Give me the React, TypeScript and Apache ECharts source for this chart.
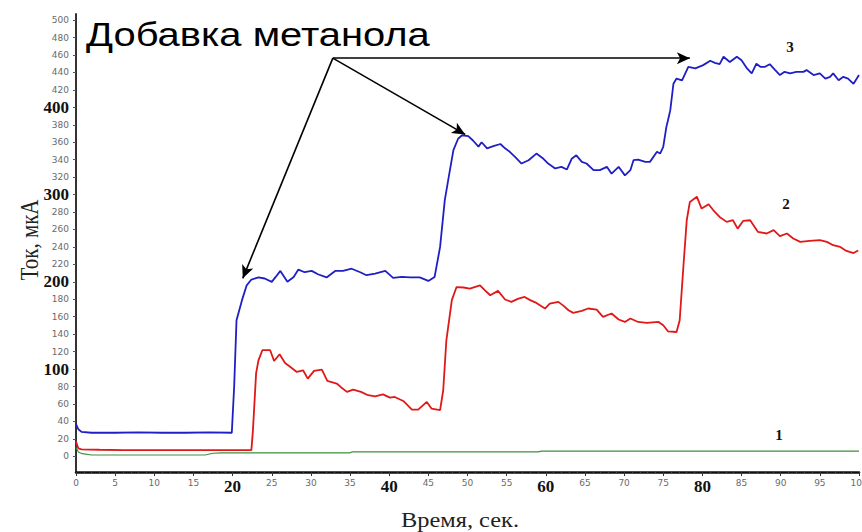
import React, { useEffect, useRef } from "react";
import * as echarts from "echarts";

// Time (s) / current (µA) readings for each curve
const series3Blue: [number, number][] = [
  [0, 37], [0.3, 31], [0.7, 28], [2, 27], [5, 27], [8, 27.5], [11, 27], [14, 27], [17, 27.5], [19.9, 27],
  [20.2, 80], [20.5, 156], [21.2, 179], [21.8, 196], [22.4, 202.6], [23.3, 205], [24.1, 203.8], [25.0, 200],
  [25.5, 205.6], [26.1, 212.5], [27.0, 200], [27.8, 205.6], [28.4, 214], [29.2, 211], [30.1, 212.5],
  [30.9, 208.7], [32.0, 205], [33.1, 212.5], [34.1, 212.5], [35.2, 215], [36.3, 211], [37.1, 207.6],
  [38.2, 209.5], [39.5, 212.5], [40.5, 204.5], [41.6, 205.6], [42.7, 205], [43.9, 205], [45.0, 201],
  [45.8, 205.6], [46.5, 240], [47.1, 293.6], [47.6, 320], [48.2, 351], [48.8, 364], [49.3, 368], [50.1, 367],
  [50.7, 362], [51.4, 355], [51.8, 360], [52.5, 353], [53.3, 355.5], [54.2, 358], [54.8, 353], [55.4, 349],
  [56.1, 343], [56.9, 335.6], [57.8, 339.4], [58.8, 347], [59.7, 341], [60.3, 335.6], [61.2, 330], [62.0, 331.8],
  [62.7, 328.8], [63.3, 341], [63.9, 345], [64.6, 337.5], [65.2, 335.6], [66.1, 328], [66.9, 328], [67.8, 331.8],
  [68.4, 324], [69.3, 331.8], [70.1, 322], [70.8, 328], [71.2, 339.4], [71.8, 340], [72.7, 337.5], [73.3, 337.5],
  [74.2, 349], [74.6, 347], [75.0, 354.7], [75.4, 377.6], [75.6, 385], [75.9, 396.8], [76.3, 427], [76.7, 433],
  [77.4, 431], [78.2, 446.5], [79.1, 444.6], [80.1, 448.4], [81.0, 453.4], [81.6, 451], [82.2, 449.5], [82.7, 458],
  [83.5, 452], [84.4, 458], [85.0, 454], [85.7, 444.6], [86.3, 438.9], [86.9, 450], [87.4, 446.5], [88.0, 446.5],
  [88.6, 449.5], [89.3, 442.7], [89.9, 437], [90.5, 440.7], [91.2, 438.9], [92.0, 440.7], [92.9, 440.7],
  [93.3, 442.7], [94.2, 437], [95.0, 438.9], [95.7, 433], [96.3, 435], [96.7, 439], [97.4, 431], [98.0, 435],
  [98.6, 433], [99.3, 427], [100, 437],
];

const series2Red: [number, number][] = [
  [0, 17], [0.3, 9], [0.7, 8], [3, 7.5], [6, 7], [10, 7], [14, 7], [18, 7], [22.4, 7], [22.6, 30], [23.0, 95],
  [23.3, 110], [23.8, 121.6], [24.8, 121.6], [25.3, 109.3], [26.0, 117], [26.7, 107], [27.3, 103], [28.2, 96.7],
  [29.0, 98.6], [29.6, 89], [30.4, 97.9], [31.4, 99.4], [32.1, 86.4], [33.3, 83.4], [33.8, 79.5], [34.6, 73.8],
  [35.4, 76.5], [36.4, 73.8], [37.3, 70], [38.2, 68.8], [39.2, 71], [40.1, 67.3], [40.7, 68], [41.8, 63.4],
  [42.9, 53.5], [43.7, 53.5], [44.8, 62.3], [45.4, 54.7], [46.5, 52.8], [46.9, 75.7], [47.3, 133], [48.0, 179],
  [48.6, 194], [49.5, 193.5], [50.3, 192.3], [51.6, 196], [52.2, 190.4], [52.9, 184.6], [53.9, 189.6],
  [54.8, 179.7], [55.6, 177], [56.5, 180.8], [57.3, 182.7], [58.0, 179], [58.8, 175.8], [59.9, 169.4], [60.5, 175],
  [61.6, 177], [62.2, 173], [62.9, 167.4], [63.5, 164.4], [64.6, 166.7], [65.4, 169.4], [66.5, 168.2],
  [67.3, 159.8], [68.4, 163.7], [69.3, 156.8], [70.1, 154], [70.8, 157.9], [71.8, 154], [72.9, 152.9], [74.4, 154],
  [75.0, 150.2], [75.6, 143.3], [76.7, 142.5], [77.1, 156], [77.6, 221], [78.0, 270.6], [78.4, 291.6],
  [79.3, 297.4], [79.9, 284], [80.8, 289], [81.4, 282], [82.2, 274.4], [83.1, 268.7], [83.9, 270.6], [84.5, 261],
  [85.2, 269.8], [86.1, 270.6], [87.1, 257.2], [88.2, 255.4], [89.1, 259.2], [89.9, 252.3], [90.8, 255.4],
  [91.6, 249.7], [92.5, 245.8], [93.7, 246.9], [95.0, 247.7], [95.9, 245.8], [96.7, 242], [97.6, 240],
  [98.4, 235.4], [99.3, 233], [99.9, 236],
];

const series1Green: [number, number][] = [
  [0, 10], [0.3, 5], [0.8, 3], [2, 1.5], [8, 1.5], [16.5, 1.5], [17.5, 3.5], [18.5, 4], [35, 4], [35.3, 5],
  [59, 5], [59.5, 6], [100, 6],
];

// Arrow annotations ("Добавка метанола"): start and end points in data coordinates
const arrowStart: [number, number] = [32.8, 456.4];
const arrowEnds: [number, number][] = [[21.3, 204], [49.7, 369], [78.4, 456.4]];

const yTickValues = [0, 20, 40, 60, 80, 100, 120, 140, 160, 180, 200, 220, 240, 260, 280, 300, 320, 340, 360, 380, 400, 420, 440, 460, 480, 500];
const yBoldLabels = [100, 200, 300, 400];
const xBoldLabels = [20, 40, 60, 80];

const titleText = "Добавка метанола";
const yName = "Ток, мкА";
const xName = "Время, сек.";
const curveLabels = ["3", "2", "1"];

export default function App() {
  const ref = useRef<HTMLDivElement>(null);

  useEffect(() => {
    if (!ref.current) return;
    const chart = echarts.init(ref.current, null, { renderer: "svg" });

    const rich = {
      s: { fontFamily: "DejaVu Sans", fontSize: 9, color: "#6a6a6a" },
      b: { fontFamily: "Liberation Serif", fontSize: 17, fontWeight: "bold", color: "#111" },
    };

    const option: any = {
      animation: false,
      backgroundColor: "#ffffff",
      grid: { left: 76, right: 3, top: 14, bottom: 60, containLabel: false, outerBoundsMode: "none" },
      xAxis: {
        type: "value",
        min: 0,
        max: 100,
        interval: 5,
        axisLine: { show: true, onZero: false, lineStyle: { color: "#111", width: 2.5 } },
        axisTick: { show: true, length: 4, lineStyle: { color: "#333", width: 1 } },
        minorTick: { show: true, splitNumber: 5, length: 2, lineStyle: { color: "#444", width: 1 } },
        splitLine: { show: false },
        axisLabel: {
          margin: 6,
          rich,
          hideOverlap: false,
          formatter: (v: number) => (xBoldLabels.includes(v) ? `{b|${v}}` : `{s|${v}}`),
        },
      },
      yAxis: {
        type: "value",
        min: -18,
        max: 507,
        axisLine: { show: true, onZero: false, lineStyle: { color: "#333", width: 2 } },
        axisTick: { show: true, length: 3, customValues: yTickValues, lineStyle: { color: "#555" } },
        splitLine: { show: false },
        axisLabel: {
          margin: 7,
          rich,
          customValues: yTickValues,
          formatter: (v: number) => (yBoldLabels.includes(v) ? `{b|${v}}` : `{s|${v}}`),
        },
      },
      series: [
        {
          type: "line",
          data: series1Green,
          showSymbol: false,
          lineStyle: { color: "#3d8f3d", width: 1.2 },
          z: 2,
        },
        {
          type: "line",
          data: series2Red,
          showSymbol: false,
          lineStyle: { color: "#e01818", width: 1.8 },
          z: 3,
        },
        {
          type: "line",
          data: series3Blue,
          showSymbol: false,
          lineStyle: { color: "#1f1fc4", width: 1.8 },
          z: 4,
          markLine: {
            silent: true,
            animation: false,
            symbol: ["none", "arrow"],
            symbolSize: [9, 13],
            label: { show: false },
            emphasis: { disabled: true },
            lineStyle: { color: "#000", width: 1.6, type: "solid" },
            data: arrowEnds.map((e) => [{ coord: arrowStart }, { coord: e }]),
          },
        },
      ],
      graphic: [
        {
          type: "text",
          x: 86,
          y: 35,
          scaleX: 1.21,
          style: {
            text: titleText,
            font: "33px 'Liberation Sans', Arial, sans-serif",
            fill: "#000",
            align: "left",
            verticalAlign: "middle",
          },
        },
        {
          type: "text",
          x: 30,
          y: 240,
          rotation: Math.PI / 2,
          scaleY: 1.15,
          style: {
            text: yName,
            font: "21px 'Liberation Serif', serif",
            fill: "#222",
            align: "center",
            verticalAlign: "middle",
          },
        },
        {
          type: "text",
          x: 460,
          y: 520,
          scaleX: 1.22,
          style: {
            text: xName,
            font: "20px 'Liberation Serif', serif",
            fill: "#222",
            align: "center",
            verticalAlign: "middle",
          },
        },
        {
          type: "text",
          x: 790,
          y: 47,
          style: { text: curveLabels[0], font: "bold 15px 'Liberation Serif', serif", fill: "#111", align: "center", verticalAlign: "middle" },
        },
        {
          type: "text",
          x: 786,
          y: 204,
          style: { text: curveLabels[1], font: "bold 15px 'Liberation Serif', serif", fill: "#111", align: "center", verticalAlign: "middle" },
        },
        {
          type: "text",
          x: 779,
          y: 435,
          style: { text: curveLabels[2], font: "bold 15px 'Liberation Serif', serif", fill: "#111", align: "center", verticalAlign: "middle" },
        },
      ],
    };

    chart.setOption(option);
    return () => chart.dispose();
  }, []);

  return (
    <div
      ref={ref}
      style={{ position: "fixed", left: 0, top: 0, width: 862, height: 532, background: "#fff" }}
    />
  );
}
